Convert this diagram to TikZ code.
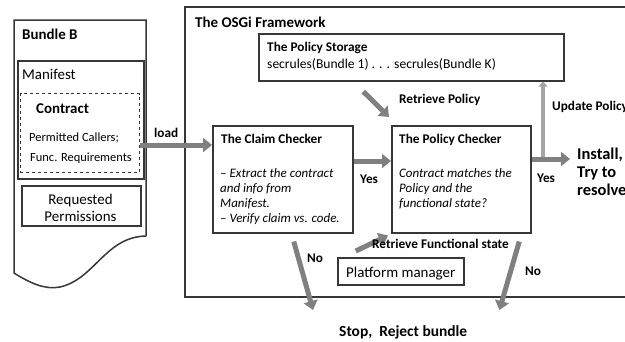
\documentclass[tikz,border=0pt]{standalone}
\usepackage{fontspec}
\setmainfont{Carlito}
\usetikzlibrary{arrows.meta}
\definecolor{c1}{RGB}{55,55,55}
\definecolor{c2}{RGB}{128,128,128}
\definecolor{c3}{RGB}{165,165,165}
\newcommand{\fsz}[2]{\fontsize{#1}{#2}\selectfont}

\tikzset{
  box/.style={draw=c1, line width=1.5bp, inner sep=0pt, anchor=north west},
  txt/.style={anchor=base west, inner sep=0pt},
  ttl/.style={txt, font=\fsz{13.3}{15}\bfseries},
  lbl/.style={txt, font=\fsz{13.3}{15}\bfseries},
  fat/.style={draw=c2, line width=5bp, -{Triangle[length=9bp,width=14bp]}},
  upd/.style={draw=c3, line width=4bp, -{Triangle[length=5bp,width=9bp]}}
}

\begin{document}
\begin{tikzpicture}[x=1bp,y=-1bp]
    \useasboundingbox (0,0) rectangle (625,341);

    % the bundle, a page with a wavy bottom
    \draw[draw=c1, line width=1.5bp] (146,236) -- (146,20) -- (14,20) -- (14,273)
        .. controls (30,283) and (45,290) .. (60,287)
        .. controls (95,279) and (105,237) .. (146,236);
    \node[txt, font=\fsz{15}{17}\bfseries] (bundlettl) at (22,39) {Bundle B};
    \node[box, minimum width=126bp, minimum height=118bp] (manifest) at (17,60) {};
    \node[txt, font=\fsz{15}{17}] (manifestttl) at (22,79) {Manifest};
    \node[box, dashed, line width=1bp, minimum width=119bp, minimum height=79bp] (contract) at (20,93) {};
    \node[txt, font=\fsz{15}{17}\bfseries] (contractttl) at (36,113) {Contract};
    % multi-line nodes: base is on the last line
    \node[txt, font=\fsz{12.5}{20}, align=left] (contracttxt) at (29,161) {Permitted Callers;\\\hspace{1bp}Func. Requirements};
    \node[box, minimum width=119bp, minimum height=40bp] (perms) at (21,185) {};
    \node[anchor=base, inner sep=0pt, font=\fsz{15}{17}, align=center] (permstxt) at (80.5,221) {Requested\\Permissions};

    % the framework, its right side is out of the picture
    \draw[draw=c1, line width=1.8bp] (630,7) -| (185,297) -- (630,297);
    \node[txt, font=\fsz{15}{17}\bfseries] (fwttl) at (195,27) {The OSGi Framework};

    \node[box, minimum width=305bp, minimum height=47bp] (storage) at (258,33) {};
    \node[ttl] (storagettl) at (267,51) {The Policy Storage};
    \node[txt, font=\fsz{13.6}{15}] (storagetxt) at (267,68) {secrules(Bundle 1) . . . secrules(Bundle K)};

    \node[box, minimum width=140bp, minimum height=107bp] (claim) at (212,125) {};
    \node[ttl] (claimttl) at (221,143) {The Claim Checker};
    \node[txt, font=\fsz{13}{15}\itshape, align=left] (claimtxt) at (220,222)
        {-- Extract the contract\\and info from\\Manifest.\\-- Verify claim vs. code.};

    \node[box, minimum width=139bp, minimum height=107bp] (policy) at (391,125) {};
    \node[ttl] (policyttl) at (399,143) {The Policy Checker};
    \node[txt, font=\fsz{13}{15}\itshape, align=left] (policytxt) at (399,207)
        {Contract matches the\\Policy and the\\functional state?};

    \node[box, minimum width=126bp, minimum height=27bp] (platform) at (337,257) {};
    \node[txt, font=\fsz{15}{17}] (platformtxt) at (346,277) {Platform manager};

    \node[txt, font=\fsz{16.5}{18}\bfseries, align=left] (install) at (577,195) {Install,\\Try to\\resolve};
    \node[txt, font=\fsz{15.5}{17}\bfseries] (stop) at (339,336) {Stop, \ Reject bundle};

    % arrows
    \coordinate (loadrow) at (0,145);
    \coordinate (yesrow) at (0,161);
    \coordinate (fork) at (543,159);
    \draw[fat] (contract.east |- loadrow) -- (claim.west |- loadrow);
    \draw[fat] (claim.east |- yesrow) -- (policy.west |- yesrow);
    \draw[upd] (fork) -- (fork |- storage.south);
    \draw[fat] (policy.east |- fork) -- ([xshift=-7bp]install.west |- fork);
    \draw[fat] ([shift={(-48,10)}]storage.south) -- ([shift={(-2,-8)}]policy.north west);
    \draw[fat] ([shift={(-45,-6)}]platform.north) -- ([shift={(-3,2)}]policy.south west);
    \draw[fat] ([shift={(11,8)}]claim.south) -- ([shift={(-26,-26)}]stop.base west);
    \draw[fat] ([shift={(58,8)}]policy.south) -- ([shift={(32,-26)}]stop.base east);

    % labels on the arrows
    \node[lbl] (loadlbl) at (154,137) {load};
    \node[lbl] (yesleft) at (360,183) {Yes};
    \node[lbl] (yesright) at (537,182) {Yes};
    \node[lbl] (noleft) at (307,262) {No};
    \node[lbl] (noright) at (525,275) {No};
    \node[lbl] (retpol) at (399,103) {Retrieve Policy};
    \node[lbl] (updpol) at (552,110) {Update Policy};
    \node[lbl] (retfun) at (372,248) {Retrieve Functional state};
\end{tikzpicture}
\end{document}
